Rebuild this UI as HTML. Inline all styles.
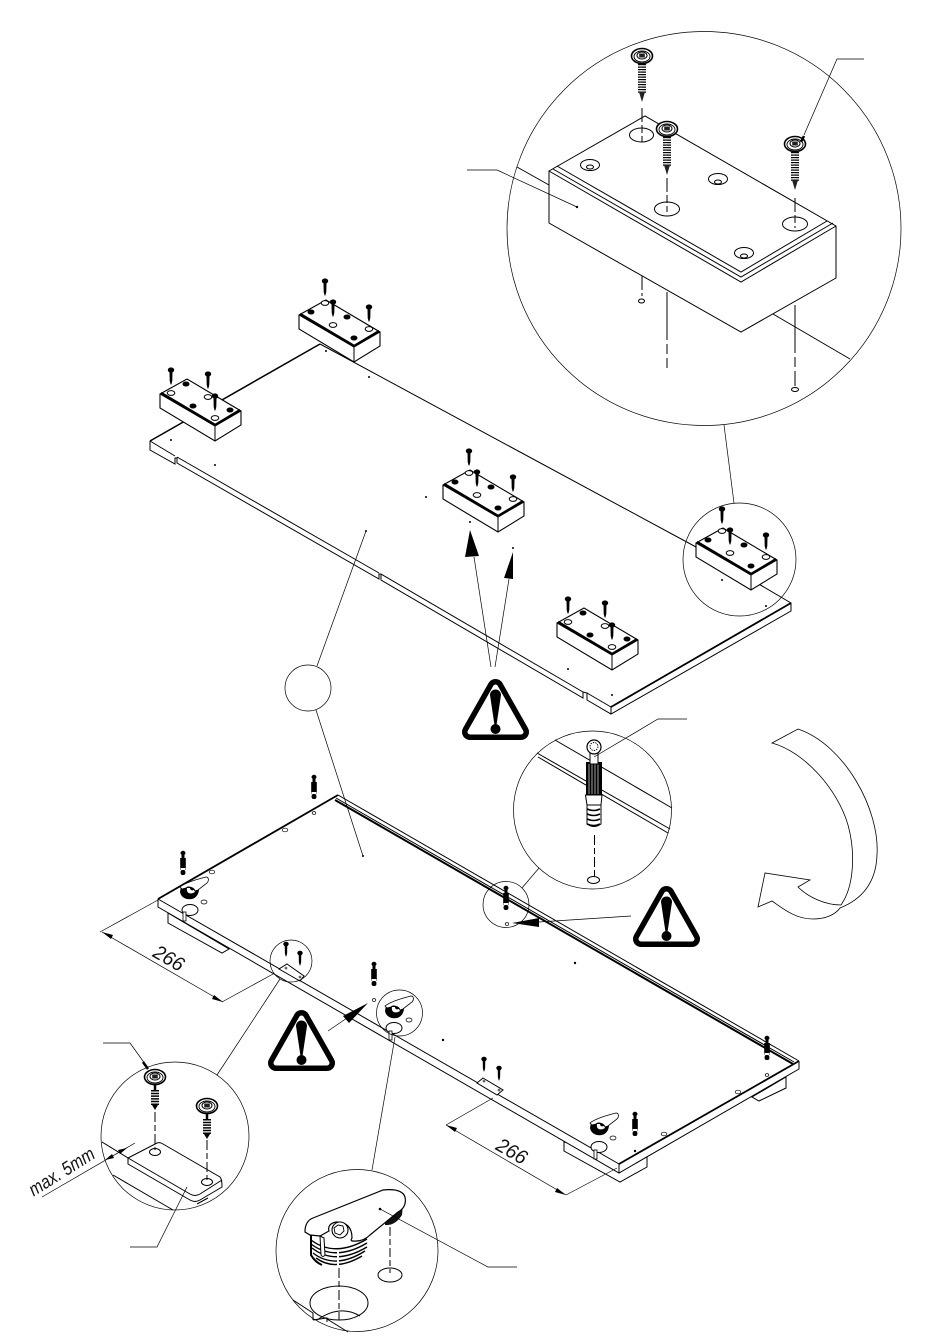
<!DOCTYPE html>
<html><head><meta charset="utf-8"><style>html,body{margin:0;padding:0;background:#fff}svg{display:block}text{font-family:"Liberation Sans",sans-serif;font-style:italic;fill:#111}</style></head><body>
<svg xmlns="http://www.w3.org/2000/svg" width="950" height="1344" viewBox="0 0 950 1344" fill="none" stroke="#000" stroke-width="1">
<defs>
<g id="head"><ellipse rx="10.500" ry="7.500" fill="#fff" stroke-width="1.600"/><ellipse cy=".5" rx="8" ry="5.500" stroke-width=".9"/><ellipse cy="-.5" rx="5" ry="3.500" fill="#fff" stroke-width="1"/><rect x="-2.800" y="-2.500" width="5.600" height="4" fill="#222" stroke="none"/></g>
<g id="scr"><polygon points="-1.500,4 1.500,4 1.500,9 -1.500,9" fill="#000" stroke="none"/><polygon points="-4,8 4,8 3.500,37 -3.500,37" fill="#fff" stroke="none"/><line x1="0" y1="8" x2="0" y2="37" stroke-width="8" stroke-dasharray="1.200 1.300"/><line x1="-1" y1="8" x2="-1" y2="37" stroke="#fff" stroke-width="1.400" stroke-dasharray="1.200 1.300" stroke-dashoffset="1.200"/><polygon points="-3,36 3,36 0,46" fill="#222" stroke="none"/><use href="#head"/></g>
<g id="scr2"><line x1="0" y1="13" x2="0" y2="29" stroke-width="8" stroke-dasharray="1.500 1.200"/><line x1="0" y1="6" x2="0" y2="13" stroke-width="2.500"/><polygon points="-3,28 3,28 0,33" fill="#000" stroke="none"/><use href="#head"/></g>
<g id="s"><polygon points="-1.500,2 1.500,2 1.300,11 .4,14.500 -.4,14.500 -1.300,11" fill="#000" stroke="none"/><ellipse rx="3.200" ry="2.600" fill="#000" stroke="none"/></g>
<g id="foot"><polygon points="0,0 27,-15 81,17 81,31 55,47 0,14" fill="#fff" stroke-width="1.100"/><polyline points="0,0 55,32 81,17" stroke-width="1"/><line x1="55" y1="32" x2="55" y2="47"/><line x1="1" y1="-1" x2="55" y2="31" stroke-width="2.600"/><line x1="55" y1="31" x2="80" y2="16" stroke-width="2.200"/></g>
<g id="footA"><use href="#foot"/><ellipse cx="11" cy="-1" rx="3.800" ry="2.400" fill="#fff"/><ellipse cx="48" cy="3" rx="3.800" ry="2.400" fill="#fff"/><ellipse cx="55" cy="24" rx="3.800" ry="2.400" fill="#fff"/><ellipse cx="26" cy="-10" rx="3" ry="2" fill="#000"/><ellipse cx="33" cy="12" rx="3" ry="2" fill="#000"/><ellipse cx="70" cy="16" rx="3" ry="2" fill="#000"/><use href="#s" x="11" y="-24"/><use href="#s" x="48" y="-20"/><use href="#s" x="55" y="2"/></g>
<g id="footB"><use href="#foot"/><ellipse cx="26" cy="-12" rx="3.800" ry="2.400" fill="#fff"/><ellipse cx="34" cy="10" rx="3.800" ry="2.400" fill="#fff"/><ellipse cx="70" cy="14" rx="3.800" ry="2.400" fill="#fff"/><ellipse cx="12" cy="-3" rx="3" ry="2" fill="#000"/><ellipse cx="48" cy="2" rx="3" ry="2" fill="#000"/><ellipse cx="55" cy="23" rx="3" ry="2" fill="#000"/><use href="#s" x="26" y="-34"/><use href="#s" x="34" y="-13"/><use href="#s" x="70" y="-8"/></g>
<g id="warn"><polygon points="33.500,8 59,53 8,53" fill="#000" stroke="#000" stroke-width="16" stroke-linejoin="round"/><polygon points="33.500,8 59,53 8,53" fill="#fff" stroke="#fff" stroke-width="5" stroke-linejoin="round"/><path d="M28,16 a5.500,5.500 0 0 1 11,0 L34.500,46 h-2z" fill="#000" stroke="none"/><circle cx="33.500" cy="50" r="5" fill="#000" stroke="none"/></g>
<g id="dow"><rect x="-1.500" y="2" width="3" height="6" fill="#000" stroke="none"/><ellipse cy="2" rx="2.500" ry="2.200" fill="#000" stroke="none"/><rect x="-2.800" y="7" width="5.600" height="12" fill="#000" stroke="none"/><rect x="-2.400" y="17" width="4.800" height="2" fill="#fff" stroke="none"/><rect x="-2.400" y="19" width="4.800" height="5" rx="2" fill="#000" stroke="none"/></g>
<g id="cam"><path d="M-12,-3 L-13,3 C-12,9 -6,11 -1,10 C3,9 6,5 6,0 L0,-3Z" fill="#000" stroke="none"/><path d="M-13,-2 C-8,-6 5,-10 13,-12 C16,-12 16,-8 14,-6 L5,1 L2,2 C1,-2 -5,-3 -7,-1 L-11,0Z" fill="#fff" stroke-width=".8"/><path d="M-6,-1 C-7,4 -3,6 2,3 L1,1 C-1,2 -3,1 -3,-1Z" fill="#fff" stroke="none"/></g>
</defs>

<!-- large detail circle -->
<circle cx="704" cy="228.500" r="197" stroke-width=".7"/>
<line x1="517" y1="167" x2="549" y2="185" stroke-width="1"/>
<line x1="773" y1="314" x2="850" y2="359" stroke-width="1"/>
<polygon points="549,171 645,116 836,226 836,278 741,332 549,223" fill="#fff" stroke-width="1"/>
<polyline points="549,171 741,282 836,226" stroke-width="1"/>
<polyline points="557,166 741,272 827,221" stroke-width="1"/>
<polyline points="553,169 741,277 833,223" stroke-width="1"/>
<ellipse cx="641.500" cy="135" rx="12" ry="7"/><ellipse cx="667" cy="209" rx="12.500" ry="7"/><ellipse cx="795" cy="224" rx="12.500" ry="7"/>
<g fill="#fff"><ellipse cx="590" cy="165" rx="9.500" ry="5.500"/><ellipse cx="590" cy="167" rx="3.500" ry="2"/><ellipse cx="718" cy="179" rx="9.500" ry="5.500"/><ellipse cx="718" cy="182" rx="3.500" ry="2"/><ellipse cx="744" cy="253" rx="9.500" ry="5.500"/><ellipse cx="744" cy="256" rx="3.500" ry="2"/></g>
<g stroke-dasharray="14 3 8 3"><line x1="642" y1="108" x2="642" y2="142"/><line x1="667" y1="178" x2="667" y2="212"/><line x1="795" y1="198" x2="795" y2="228"/><line x1="642" y1="276" x2="642" y2="296"/></g>
<g stroke-dasharray="48 4 10 4"><line x1="667" y1="292" x2="667" y2="368"/><line x1="795" y1="305" x2="795" y2="386"/></g>
<ellipse cx="641.500" cy="301" rx="3" ry="2"/><ellipse cx="795" cy="389.500" rx="3.500" ry="2"/>
<use href="#scr" x="642" y="56"/><use href="#scr" x="667" y="129"/><use href="#scr" x="795" y="144"/>
<polyline points="467,170 497,170 577,207" stroke-width=".7"/><circle cx="577" cy="207" r=".7" fill="#000"/>
<polyline points="864,59 837,59 804,135" stroke-width=".7"/><line x1="804" y1="136" x2="801" y2="142" stroke-width="2.500"/>
<line x1="724" y1="425" x2="734" y2="503" stroke-width=".7"/>

<!-- upper board -->
<polyline points="150,441 150,450 175,464 175,458 177,458 177,463 379,579 379,574 381,574 381,580 583,698 583,692 587,693 587,700 611,714 791,611 791,603 696,547" stroke-width="1"/>
<polyline points="150,441 175,456" stroke-width="1"/><line x1="177" y1="457" x2="379" y2="573"/><line x1="381" y1="574" x2="583" y2="692"/><line x1="587" y1="693" x2="611" y2="707"/><line x1="611" y1="707" x2="611" y2="714"/>
<line x1="611" y1="707" x2="791" y2="603" stroke-width="1.800"/>
<line x1="150" y1="441" x2="320" y2="344" stroke-width="1.500"/>
<line x1="320" y1="344" x2="696" y2="547" stroke-width="1"/>
<g fill="#000" stroke="none"><circle cx="326" cy="351" r="1"/><circle cx="369" cy="377" r="1"/><circle cx="171" cy="440" r="1"/><circle cx="215" cy="465" r="1"/><circle cx="366" cy="531" r="1"/><circle cx="426" cy="497" r="1"/><circle cx="470" cy="522" r="1"/><circle cx="513" cy="548" r="1"/><circle cx="568" cy="669" r="1"/><circle cx="612" cy="695" r="1"/><circle cx="722" cy="580" r="1"/><circle cx="766" cy="606" r="1"/></g>
<use href="#footA" x="160" y="394"/><use href="#footB" x="299" y="315"/><use href="#footB" x="443" y="485"/><use href="#footB" x="696" y="543"/><use href="#footA" x="557" y="623"/>
<circle cx="739.500" cy="559.500" r="56.500" stroke-width=".7"/>

<!-- warning 1 -->
<line x1="491" y1="667" x2="474" y2="557" stroke-width=".7"/><polygon points="470,530 465,557 479,556" fill="#000" stroke="none"/>
<line x1="495" y1="667" x2="509" y2="579" stroke-width=".7"/><polygon points="513,552 504,578 513,579" fill="#000" stroke="none"/>
<use href="#warn" x="462" y="679"/>

<!-- empty balloon -->
<circle cx="308" cy="688" r="23" stroke-width=".7"/>
<line x1="317" y1="666" x2="366" y2="531" stroke-width=".7"/>

<!-- curved arrow -->
<path d="M772,743 L798,729 C845,745 880,810 877,855 C876,885 860,900 840,908 C835,915 825,919 813,919 C795,919 782,908 772,901 L758,907 L765,873 L810,880 L798,887 C808,897 825,905 841,905 C855,885 855,850 848,825 C838,790 805,752 772,743Z" stroke-width=".8"/>

<!-- lower board -->
<polygon points="168,913 168,923 222,953 229,949" fill="#fff"/>
<polygon points="564,1142 564,1151 620,1182 647,1167 647,1157" fill="#fff"/>
<polygon points="786,1077 786,1088 759,1101 752,1097" fill="#fff"/>
<polygon points="158,899 338,795 799,1061 799,1069 619,1173 158,907" fill="#fff" stroke="none"/>
<polyline points="158,899 158,907 619,1173 799,1069 799,1061"/>
<line x1="158" y1="899" x2="338" y2="795" stroke-width="1.800"/>
<line x1="338" y1="795" x2="799" y2="1061" stroke-width="1"/>
<line x1="158" y1="899" x2="619" y2="1164" stroke-width="1"/><line x1="619" y1="1164" x2="619" y2="1173"/>
<line x1="619" y1="1164" x2="799" y2="1061" stroke-width="1.800"/>
<line x1="336" y1="798" x2="794" y2="1062" stroke-width="1"/>
<line x1="335" y1="800" x2="793" y2="1064" stroke-width="2"/>
<line x1="316" y1="710" x2="363" y2="856" stroke-width=".7"/>
<g fill="#fff"><ellipse cx="190" cy="910" rx="8" ry="5.500"/><ellipse cx="394" cy="1028" rx="8" ry="5.500"/><ellipse cx="599" cy="1147" rx="8" ry="5.500"/></g>
<g fill="#fff" stroke-width=".8"><rect x="183" y="912" width="3" height="9"/><rect x="389" y="1031" width="3" height="9"/><rect x="594" y="1150" width="3" height="9"/></g>
<g fill="#fff"><polygon points="483,1078 503,1090 497,1095 477,1083"/><polygon points="287,964 304,976 300,981 279,969"/><circle cx="484" cy="1081" r="1" stroke-width=".6"/><circle cx="499" cy="1090" r="1" stroke-width=".6"/><circle cx="286" cy="968" r="1" stroke-width=".6"/><circle cx="300" cy="977" r="1" stroke-width=".6"/></g>
<g fill="#fff" stroke-width=".7"><ellipse cx="212" cy="872" rx="2.800" ry="1.800"/><ellipse cx="285" cy="830" rx="2.800" ry="1.800"/><ellipse cx="314" cy="813" rx="1.800" ry="1.400"/><ellipse cx="204" cy="902" rx="3" ry="2"/><ellipse cx="409" cy="1020" rx="3" ry="2"/><ellipse cx="374" cy="1000" rx="1.800" ry="1.400"/><ellipse cx="613" cy="1138" rx="3" ry="2"/><ellipse cx="664" cy="1134" rx="2.800" ry="1.800"/><ellipse cx="738" cy="1092" rx="2.800" ry="1.800"/><ellipse cx="767" cy="1075" rx="1.800" ry="1.400"/><ellipse cx="507" cy="924" rx="1.800" ry="1.400"/></g>
<g fill="#000" stroke="none"><circle cx="363" cy="856" r="1"/><circle cx="443" cy="1040" r="1.200"/><circle cx="575" cy="963" r="1.200"/><circle cx="635" cy="1151" r="1.200"/></g>
<use href="#dow" x="183" y="851"/><use href="#dow" x="314" y="775"/><use href="#dow" x="374" y="962"/><use href="#dow" x="506" y="886"/><use href="#dow" x="767" y="1036"/><use href="#dow" x="635" y="1112"/>
<use href="#cam" x="193" y="889"/><use href="#cam" x="398" y="1008"/><use href="#cam" x="603" y="1125"/>
<g transform="translate(286 944) scale(.85)"><use href="#s"/></g><g transform="translate(300 953) scale(.85)"><use href="#s"/></g><g transform="translate(484 1059) scale(.85)"><use href="#s"/></g><g transform="translate(499 1068) scale(.85)"><use href="#s"/></g>
<circle cx="291" cy="961" r="21" stroke-width=".7"/><circle cx="399.500" cy="1013" r="23" stroke-width=".7"/><circle cx="506" cy="904.500" r="23" stroke-width=".7"/>

<!-- dimensions -->
<g stroke-width=".7"><polyline points="158,900 100,932"/><line x1="102" y1="932" x2="223" y2="1002"/><polyline points="222,1002 273,974"/><polyline points="493,1098 446,1125"/><line x1="446" y1="1125" x2="566" y2="1195"/><polyline points="566,1195 617,1168"/></g>
<g fill="#000" stroke="none"><polygon points="102,932 113,935 111,939"/><polygon points="223,1002 212,999 214,995"/><polygon points="446,1125 457,1128 455,1132"/><polygon points="566,1195 555,1192 557,1188"/></g>
<text x="169" y="965" font-size="20" textLength="32" lengthAdjust="spacingAndGlyphs" text-anchor="middle" transform="rotate(30 169 958)" stroke="none">266</text>
<text x="512" y="1158" font-size="20" textLength="32" lengthAdjust="spacingAndGlyphs" text-anchor="middle" transform="rotate(30 512 1151)" stroke="none">266</text>

<!-- warning 2, 3 -->
<line x1="631" y1="916" x2="539" y2="922" stroke-width=".7"/><polygon points="512,923 539,918 539,927" fill="#000" stroke="none"/>
<use href="#warn" x="633" y="886"/>
<line x1="328" y1="1031" x2="347" y2="1018" stroke-width=".7"/><polygon points="368,1003 343,1016 349,1023" fill="#000" stroke="none"/>
<use href="#warn" x="268" y="1010"/>

<!-- dowel detail -->
<circle cx="592.500" cy="810" r="79" stroke-width=".7"/>
<line x1="522" y1="888" x2="539" y2="868" stroke-width=".7"/>
<line x1="555" y1="740" x2="672" y2="808"/><line x1="537" y1="753" x2="670" y2="829"/><line x1="538" y1="757" x2="668" y2="833"/>
<rect x="586" y="762" width="16" height="33" fill="#000" stroke="none"/>
<g stroke="#ccc" stroke-width=".8"><line x1="589" y1="764" x2="589" y2="794"/><line x1="592" y1="764" x2="592" y2="794"/><line x1="595" y1="764" x2="595" y2="794"/><line x1="598" y1="764" x2="598" y2="794"/></g>
<rect x="590" y="752" width="8" height="12" fill="#fff"/>
<circle cx="594" cy="747" r="7" fill="#fff" stroke-width="1.200"/><circle cx="594" cy="746.500" r="4" stroke-width=".9" stroke-dasharray="1.500 1"/>
<path d="M585.500,795 L602,795 L601,805 L587,805Z" fill="#fff"/>
<path d="M587,805 h14 v19 q-7,5 -14,0z" fill="#fff"/>
<g stroke-width="1.600"><path d="M587,809 q7,3 13,0"/><path d="M587,814 q7,3 13,0"/><path d="M587,819 q7,3 13,0"/><path d="M587,824 q7,3 13,0"/></g>
<line x1="594.500" y1="835" x2="594.500" y2="877" stroke-dasharray="10 3 6 3"/><ellipse cx="593.500" cy="880" rx="6" ry="3.500"/>
<polyline points="687,719 658,719 594,757" stroke-width=".7"/>

<!-- plate detail -->
<circle cx="175" cy="1136" r="74" stroke-width=".7"/>
<line x1="217" y1="1075" x2="280" y2="979" stroke-width=".7"/>
<line x1="102" y1="1142" x2="128" y2="1158"/><line x1="113" y1="1175" x2="173" y2="1210"/><line x1="208" y1="1198" x2="197" y2="1204"/>
<path d="M128,1158 L157,1143 Q160,1142 163,1144 L220,1177 Q222,1179 222,1187 L200,1200 Q195,1203 190,1200 L128,1164Z" fill="#fff"/>
<path d="M128,1158 L190,1194 Q195,1197 200,1194 L222,1180"/>
<ellipse cx="155" cy="1152" rx="5.500" ry="3.500"/><ellipse cx="207" cy="1182" rx="5.500" ry="3.500"/>
<g stroke-dasharray="10 3 6 3"><line x1="155" y1="1112" x2="155" y2="1150"/><line x1="207" y1="1140" x2="207" y2="1180"/></g>
<use href="#scr2" x="155" y="1077"/><use href="#scr2" x="207" y="1106"/>
<polyline points="103,1043 130,1043 148,1068" stroke-width=".7"/><line x1="143" y1="1062" x2="148" y2="1069" stroke-width="2.500"/>
<polyline points="187,1187 157,1247 130,1247" stroke-width=".7"/>
<line x1="42" y1="1197" x2="135" y2="1143" stroke-width=".7"/>
<polygon points="127,1148 118,1150 120,1154" fill="#000" stroke="none"/><polygon points="105,1160 114,1158 112,1154" fill="#000" stroke="none"/>
<text x="65" y="1177" font-size="19" textLength="74" lengthAdjust="spacingAndGlyphs" text-anchor="middle" transform="rotate(-32 65 1177)" stroke="none">max. 5mm</text>

<!-- cam detail -->
<circle cx="357" cy="1250.500" r="81" stroke-width=".7"/>
<line x1="372" y1="1170" x2="395" y2="1037" stroke-width=".7"/>
<ellipse cx="390" cy="1275" rx="12" ry="7"/><ellipse cx="339" cy="1303" rx="29" ry="17"/>
<path d="M317,1320 Q340,1304 360,1316"/>
<polyline points="293,1300 313,1313 313,1320"/><polyline points="313,1320 327,1318 327,1319 348,1332"/><polyline points="327,1318 327,1322"/>
<line x1="390" y1="1227" x2="390" y2="1273" stroke-dasharray="9 3 6 3"/><line x1="339" y1="1268" x2="339" y2="1320" stroke-dasharray="10 3 6 3"/>
<path d="M385,1220 L403,1204 L402,1215 Q395,1226 385,1225 Z" fill="#111" stroke="none"/>
<path d="M310,1234 L311,1255 Q322,1268 340,1267 Q360,1265 367,1248 L367,1238Z" fill="#fff" stroke="none"/>
<g stroke-width="1.400"><path d="M311,1240 Q335,1258 367,1239"/><path d="M311,1244 Q335,1262 367,1243"/><path d="M312,1248 Q335,1266 367,1247"/><path d="M313,1253 Q335,1270 365,1251"/><path d="M316,1258 Q335,1272 362,1256"/></g>
<path d="M311,1235 L311,1255 Q315,1262 322,1265" stroke-width="2"/>
<line x1="338" y1="1250" x2="338" y2="1268" stroke="#fff" stroke-width="2"/>
<path d="M305,1232 Q305,1221 313,1218 L383,1190 Q402,1188 405,1197 Q407,1207 398,1212 L370,1235 Q363,1242 353,1241 Q350,1241 352,1238 Q352,1222 336,1222 Q327,1224 329,1231 L320,1236 L310,1235Z" fill="#fff" stroke-width="1.200"/>
<path d="M320,1236 L321,1255 Q323,1258 325,1255 L324,1238 Z" fill="#fff"/>
<circle cx="340" cy="1230" r="8" fill="#fff" stroke-width="1.100"/><path d="M334,1228 l4,-3 l5,1 l1,5 l-4,4 l-5,-2z" fill="#fff" stroke-width=".9"/>
<polyline points="380,1209 488,1267 517,1267" stroke-width=".7"/><circle cx="380" cy="1209" r=".8" fill="#000"/>
</svg>
</body></html>
